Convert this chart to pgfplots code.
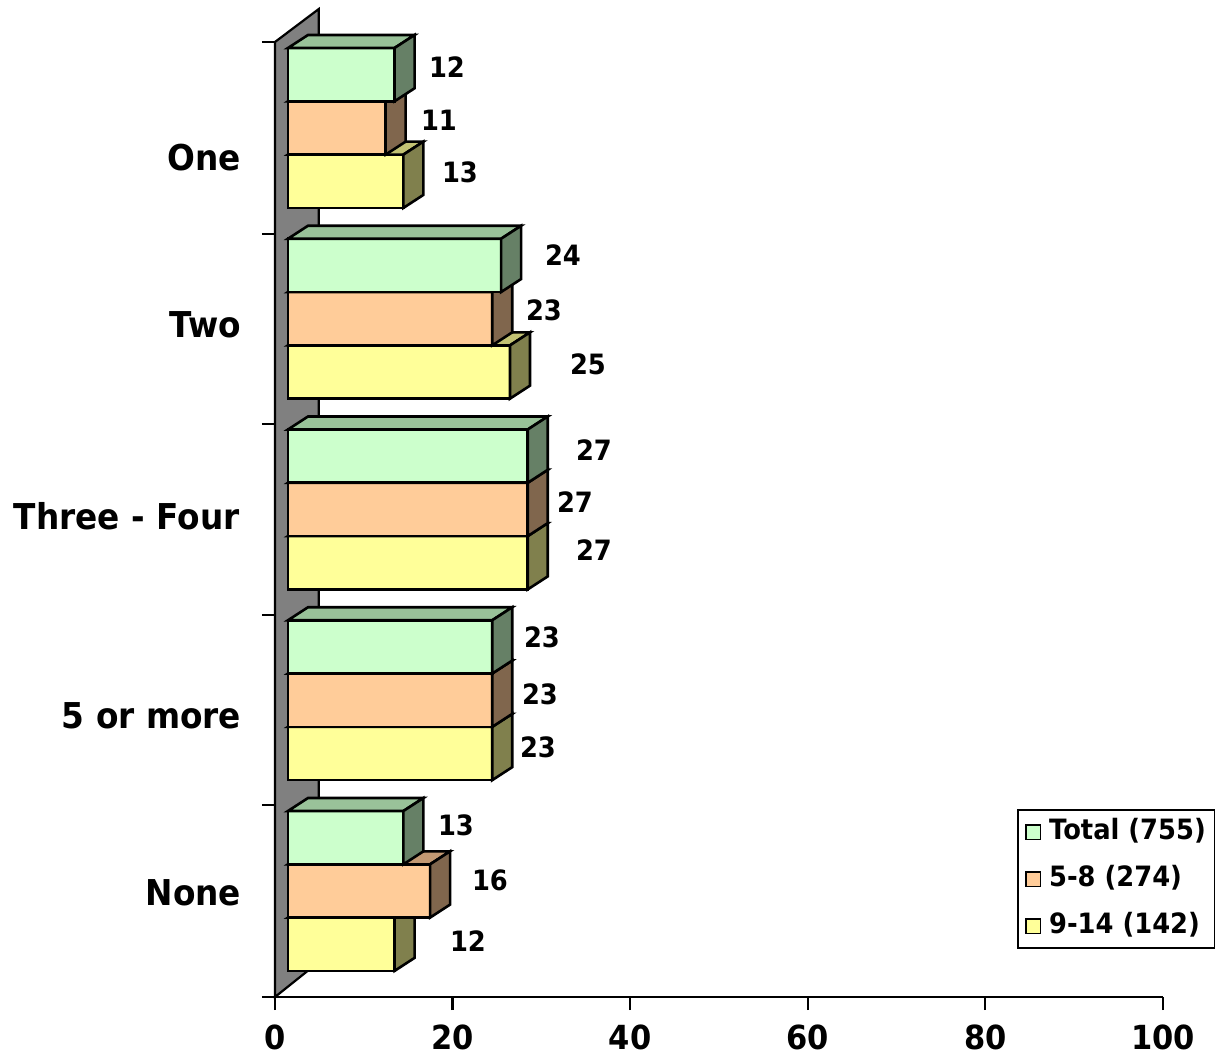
\documentclass[border=0pt]{standalone}
\usepackage{pgfplots}
\pgfplotsset{compat=1.18}
\usepackage{pgfplotstable}
\usepackage{fontspec}
\setmainfont{DejaVu Sans}[FakeStretch=0.92]

% face colours: front, top (lit) and side (shaded)
\definecolor{totF}{HTML}{CCFFCC}
\definecolor{totT}{HTML}{99C299}
\definecolor{totS}{HTML}{668066}
\definecolor{midF}{HTML}{FFCC99}
\definecolor{midT}{HTML}{C29973}
\definecolor{midS}{HTML}{80664D}
\definecolor{oldF}{HTML}{FFFF99}
\definecolor{oldT}{HTML}{C2C273}
\definecolor{oldS}{HTML}{80804D}
\definecolor{wall}{HTML}{808080}

\newcommand\catfont{\bfseries\fontsize{17.8}{17.8}\selectfont}
\newcommand\tickfont{\bfseries\fontsize{16.6}{16.6}\selectfont}
\newcommand\datafont{\bfseries\fontsize{14}{14}\selectfont}
\newcommand\legfont{\bfseries\fontsize{14}{14}\selectfont}

% geometry of the 3-D boxes (x in data units, y in layout units)
\def\pxu{8.88}     % layout units per x unit
\def\xzero{1.464}  % bars stand slightly in front of the back wall
\def\ddx{2.252}    % depth, horizontal part
\def\ddy{13}       % depth, vertical part
\def\bh{53.3}      % bar thickness
\def\gstep{190.75} % distance between category groups
\def\ytop{1007}    % top edge of the first group

% g = category (0 = One ... 4 = None), v = percent, lx/ly = value label centre
\pgfplotstableread{
g v  lx  ly
0 12 447 67
1 24 563 255
2 27 594 450
3 23 542 637
4 13 456 825
}\totaltab
\pgfplotstableread{
g v  lx  ly
0 11 439 120
1 23 544 310
2 27 575 502
3 23 540 694
4 16 490 880
}\midtab
\pgfplotstableread{
g v  lx  ly
0 13 460 172
1 25 588 364
2 27 594 550
3 23 538 747
4 12 468 941
}\oldtab

\tikzset{face/.style={draw=black,line width=1.3pt}}

% #1 table, #2 slot in group (0 top), #3 front, #4 top, #5 side colour
\newcommand\barseries[5]{%
  \foreach \r in {0,...,4}{%
    \pgfplotstablegetelem{\r}{g}\of{#1}\let\grp\pgfplotsretval
    \pgfplotstablegetelem{\r}{v}\of{#1}\let\vv\pgfplotsretval
    \pgfplotstablegetelem{\r}{lx}\of{#1}\let\lx\pgfplotsretval
    \pgfplotstablegetelem{\r}{ly}\of{#1}\let\ly\pgfplotsretval
    \pgfmathsetmacro\xa{\xzero}%
    \pgfmathsetmacro\xb{\xzero+\vv}%
    \pgfmathsetmacro\xc{\xb+\ddx}%
    \pgfmathsetmacro\xd{\xa+\ddx}%
    \pgfmathsetmacro\yt{\ytop-\grp*\gstep-#2*\bh}%
    \pgfmathsetmacro\yb{\yt-\bh}%
    \pgfmathsetmacro\ytt{\yt+\ddy}%
    \pgfmathsetmacro\ybb{\yb+\ddy}%
    \pgfmathsetmacro\nx{(\lx-275)/\pxu}%
    \pgfmathsetmacro\ny{1055-\ly}%
    \edef\tmp{%
      \noexpand\addplot[forget plot,face,fill=#3] coordinates {(\xa,\yb) (\xb,\yb) (\xb,\yt) (\xa,\yt)} -- cycle;
      \noexpand\addplot[forget plot,face,fill=#4] coordinates {(\xa,\yt) (\xb,\yt) (\xc,\ytt) (\xd,\ytt)} -- cycle;
      \noexpand\addplot[forget plot,face,fill=#5] coordinates {(\xb,\yb) (\xc,\ybb) (\xc,\ytt) (\xb,\yt)} -- cycle;
      \noexpand\node[font=\noexpand\datafont,inner sep=0pt] at (axis cs:\nx,\ny) {\vv};
    }\tmp
  }%
}

\begin{document}
\begin{tikzpicture}
\begin{axis}[
  scale only axis, width=444pt, height=477.5pt,
  xmin=0, xmax=100, ymin=58, ymax=1013,
  clip=false,
  axis lines=left,
  axis line style={-, line width=1.1pt, black},
  xtick={0,20,...,100},
  ytick={58,250,440,631,821,1013}, yticklabels={},
  tick align=outside, major tick length=6.5pt,
  tick style={line width=1.1pt, black},
  /pgf/number format/assume math mode=true,
  xticklabel style={font=\tickfont, anchor=north, inner sep=0pt, yshift=-7pt},
  legend style={at={(axis cs:83.56,246)}, anchor=north west,
    draw=black, line width=1.1pt, fill=white, font=\legfont,
    inner xsep=3.5pt, inner ysep=4.5pt, row sep=10.5pt, column sep=3pt,
    nodes={inner xsep=1pt, inner ysep=0pt, text height=10pt, text depth=3pt}},
  legend cell align=left,
]
% back wall
\addplot[forget plot, fill=wall, draw=black, line width=1.1pt]
  coordinates {(0,58) (0,1013) (4.93,1046) (4.93,93)} -- cycle;

% lower bars first so the upper ones hide their tops
\barseries{\oldtab}{2}{oldF}{oldT}{oldS}
\barseries{\midtab}{1}{midF}{midT}{midS}
\barseries{\totaltab}{0}{totF}{totT}{totS}

% category names
\node[font=\catfont, anchor=east, inner sep=0pt] at (axis cs:-3.77,897) {One};
\node[font=\catfont, anchor=east, inner sep=0pt] at (axis cs:-3.77,730) {Two};
\node[font=\catfont, anchor=east, inner sep=0pt] at (axis cs:-3.95,539) {Three - Four};
\node[font=\catfont, anchor=east, inner sep=0pt] at (axis cs:-3.77,339) {5 or more};
\node[font=\catfont, anchor=east, inner sep=0pt] at (axis cs:-3.77,162) {None};

\addlegendimage{legend image code/.code={\draw[black,line width=0.8pt,fill=totF] (0pt,-3.6pt) rectangle (7.2pt,3.6pt);}}
\addlegendentry{Total (755)}
\addlegendimage{legend image code/.code={\draw[black,line width=0.8pt,fill=midF] (0pt,-3.6pt) rectangle (7.2pt,3.6pt);}}
\addlegendentry{5-8 (274)}
\addlegendimage{legend image code/.code={\draw[black,line width=0.8pt,fill=oldF] (0pt,-3.6pt) rectangle (7.2pt,3.6pt);}}
\addlegendentry{9-14 (142)}

\coordinate (bbl) at (axis cs:-30.968,0);
\coordinate (btr) at (axis cs:105.856,1055);
\end{axis}
\pgfresetboundingbox
\path[use as bounding box] (bbl) rectangle (btr);
\end{tikzpicture}
\end{document}
